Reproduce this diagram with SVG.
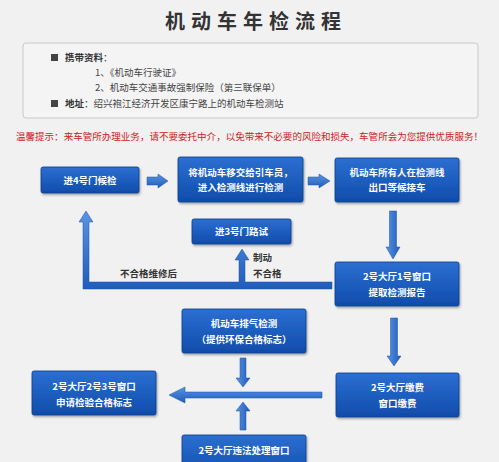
<svg xmlns="http://www.w3.org/2000/svg" width="499" height="462" viewBox="0 0 499 462">
<defs>
<linearGradient id="gb" x1="0" y1="0" x2="0" y2="1">
<stop offset="0" stop-color="#2c6fd2"/>
<stop offset="1" stop-color="#0f4caa"/>
</linearGradient>
<linearGradient id="gah" x1="0" y1="0" x2="0" y2="1">
<stop offset="0" stop-color="#5b94e0"/>
<stop offset="1" stop-color="#1f5cbd"/>
</linearGradient>
<linearGradient id="gav" x1="0" y1="0" x2="1" y2="0">
<stop offset="0" stop-color="#5b94e0"/>
<stop offset="1" stop-color="#1f5cbd"/>
</linearGradient>
<filter id="sh" x="-10%" y="-10%" width="120%" height="130%">
<feDropShadow dx="1" dy="1.5" stdDeviation="1" flood-color="#000" flood-opacity="0.35"/>
</filter>
</defs>
<style>
.box{fill:url(#gb);stroke:#0b3d8a;stroke-width:0.8;filter:url(#sh)}
.bt{font-family:"Noto Sans CJK SC",sans-serif;font-size:9.5px;font-weight:bold;fill:#fff;text-anchor:middle}
.ah{fill:url(#gah);stroke:#1a52ad;stroke-width:0.5}
.av{fill:url(#gav);stroke:#1a52ad;stroke-width:0.5}
.lb{font-family:"Noto Sans CJK SC",sans-serif;font-size:9.5px;font-weight:bold;fill:#333}
.it{font-family:"Noto Sans CJK SC",sans-serif;font-size:9.5px;fill:#444}
</style>
<rect width="499" height="462" fill="#f1f1f1"/>
<text x="256" y="29" font-family="'Noto Sans CJK SC',sans-serif" font-size="20" font-weight="bold" fill="#333" text-anchor="middle" letter-spacing="6">机动车年检流程</text>
<g id="info">
<rect x="23" y="43" width="455" height="75" rx="3" fill="#f4f4f4" stroke="#c8c8c8" stroke-width="1"/>
<rect x="51" y="54" width="7" height="7" fill="#444"/>
<text x="65" y="61" class="it"><tspan font-weight="bold" fill="#333">携带资料</tspan>：</text>
<text x="95" y="76" class="it">1、《机动车行驶证》</text>
<text x="95" y="91" class="it">2、机动车交通事故强制保险（第三联保单）</text>
<rect x="51" y="100" width="7" height="7" fill="#444"/>
<text x="65" y="107" class="it"><tspan font-weight="bold" fill="#333">地址</tspan>：绍兴袍江经济开发区康宁路上的机动车检测站</text>
</g>
<text x="16" y="140" font-family="'Noto Sans CJK SC',sans-serif" font-size="9.3" fill="#d02020" textLength="467" lengthAdjust="spacingAndGlyphs">温馨提示：来车管所办理业务，请不要委托中介，以免带来不必要的风险和损失，车管所会为您提供优质服务！</text>
<g id="connectors">
<polygon class="ah" points="147,177 158,177 158,174 168,181 158,188 158,185 147,185"/>
<polygon class="ah" points="308,177 319,177 319,174 330,181 319,188 319,185 308,185"/>
<polygon class="av" points="389.5,211 396.5,211 396.5,247 400,247 393,259 386,247 389.5,247"/>
<polygon class="ah" points="332,282 245,282 245,260 249,260 242,249 235,260 239,260 239,282 89,282 89,222 93,222 86,211 79,222 83,222 83,289 332,289"/>
<polygon class="av" points="390.5,318 397.5,318 397.5,356 401,356 394,366 387,356 390.5,356"/>
<polygon class="av" points="240,358 246,358 246,378 250,378 243,387 236,378 240,378"/>
<polygon class="av" points="240,430 246,430 246,411 250,411 243,402 236,411 240,411"/>
<polygon class="ah" points="322,392 185,392 185,387 169,395 185,403 185,398 322,398"/>
<text x="120" y="277" class="lb">不合格维修后</text>
<text x="253" y="261" class="lb">制动</text>
<text x="253" y="277" class="lb">不合格</text>
</g>
<g id="n1"><rect class="box" x="41" y="167" width="98" height="26" rx="2"/><text class="bt" x="90" y="184">进4号门候检</text></g>
<g id="n2"><rect class="box" x="178" y="157" width="125" height="45" rx="2"/><text class="bt" x="240.5" y="176">将机动车移交给引车员，</text><text class="bt" x="240.5" y="191">进入检测线进行检测</text></g>
<g id="n3"><rect class="box" x="335" y="158" width="124" height="44" rx="2"/><text class="bt" x="397" y="176">机动车所有人在检测线</text><text class="bt" x="397" y="191">出口等候接车</text></g>
<g id="n4"><rect class="box" x="192" y="219" width="99" height="25" rx="2"/><text class="bt" x="241.5" y="235">进3号门路试</text></g>
<g id="n5"><rect class="box" x="335" y="262" width="124" height="44" rx="2"/><text class="bt" x="397" y="280">2号大厅1号窗口</text><text class="bt" x="397" y="296">提取检测报告</text></g>
<g id="n6"><rect class="box" x="182" y="309" width="124" height="44" rx="2"/><text class="bt" x="244" y="327">机动车排气检测</text><text class="bt" x="244" y="343">（提供环保合格标志）</text></g>
<g id="n7"><rect class="box" x="336" y="373" width="123" height="44" rx="2"/><text class="bt" x="397.5" y="391">2号大厅缴费</text><text class="bt" x="397.5" y="407">窗口缴费</text></g>
<g id="n8"><rect class="box" x="32" y="371" width="124" height="44" rx="2"/><text class="bt" x="94" y="390">2号大厅2号3号窗口</text><text class="bt" x="94" y="406">申请检验合格标志</text></g>
<g id="n9"><rect class="box" x="182" y="435" width="124" height="44" rx="2"/><text class="bt" x="244" y="454">2号大厅违法处理窗口</text></g>
</svg>
